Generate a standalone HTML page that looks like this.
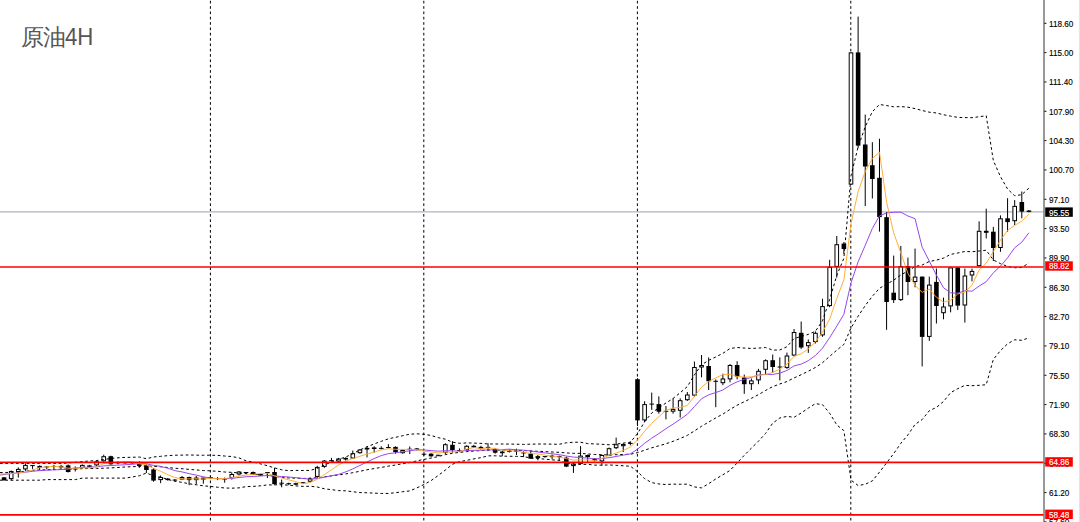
<!DOCTYPE html>
<html><head><meta charset="utf-8"><title>原油4H</title>
<style>
html,body{margin:0;padding:0;background:#fff;width:1080px;height:522px;overflow:hidden}
svg{display:block;position:absolute;left:0;top:0}
.ax{font-family:"Liberation Sans",sans-serif;font-size:8.4px;fill:#000;stroke:#000;stroke-width:0.12}
.axw{fill:#fff;stroke:#fff}
.title{position:absolute;font-family:"Liberation Sans",sans-serif;color:#555;line-height:1;white-space:nowrap}
.cjk{left:21.2px;top:26.8px;font-size:22.5px;letter-spacing:-1.6px}
.lat{left:65.2px;top:25.8px;font-size:23.4px;transform:scaleX(0.95);transform-origin:0 0}
</style></head><body>
<svg width="1080" height="522" viewBox="0 0 1080 522"><rect x="0" y="0" width="1080" height="522" fill="#fff"/><line x1="210.4" y1="0.8" x2="210.4" y2="522" stroke="#000" stroke-width="1" stroke-dasharray="2.7 2.63"/><line x1="423.8" y1="0.8" x2="423.8" y2="522" stroke="#000" stroke-width="1" stroke-dasharray="2.7 2.63"/><line x1="637.4" y1="0.8" x2="637.4" y2="522" stroke="#000" stroke-width="1" stroke-dasharray="2.7 2.63"/><line x1="850.8" y1="0.8" x2="850.8" y2="522" stroke="#000" stroke-width="1" stroke-dasharray="2.7 2.63"/><line x1="0" y1="211.8" x2="1044" y2="211.8" stroke="#aab6c2" stroke-width="1.2"/><line x1="4.08" y1="477.1" x2="4.08" y2="480.6" stroke="#000" stroke-width="1"/><rect x="1.78" y="477.3" width="4.6" height="3" fill="#000"/><line x1="11.19" y1="470.5" x2="11.19" y2="480.6" stroke="#000" stroke-width="1"/><rect x="9.39" y="471.5" width="3.6" height="7.1" fill="#fff" stroke="#000" stroke-width="1"/><line x1="18.31" y1="467.4" x2="18.31" y2="477.6" stroke="#000" stroke-width="1"/><rect x="16.51" y="469.4" width="3.6" height="2.1" fill="#fff" stroke="#000" stroke-width="1"/><line x1="25.43" y1="463.3" x2="25.43" y2="471" stroke="#000" stroke-width="1"/><rect x="23.63" y="465.4" width="3.6" height="3.5" fill="#fff" stroke="#000" stroke-width="1"/><line x1="32.55" y1="465.4" x2="32.55" y2="468.9" stroke="#000" stroke-width="1"/><rect x="30.25" y="465.1" width="4.6" height="1" fill="#000"/><line x1="39.66" y1="465.4" x2="39.66" y2="469.9" stroke="#000" stroke-width="1"/><rect x="37.36" y="465.9" width="4.6" height="2" fill="#000"/><line x1="46.78" y1="465.9" x2="46.78" y2="469.4" stroke="#000" stroke-width="1"/><rect x="44.48" y="466.4" width="4.6" height="1" fill="#000"/><line x1="53.9" y1="464.9" x2="53.9" y2="469.9" stroke="#000" stroke-width="1"/><rect x="51.6" y="465.9" width="4.6" height="1" fill="#000"/><line x1="61.01" y1="464.9" x2="61.01" y2="469.4" stroke="#000" stroke-width="1"/><rect x="58.71" y="465.9" width="4.6" height="1.5" fill="#000"/><line x1="68.13" y1="464.4" x2="68.13" y2="472.5" stroke="#000" stroke-width="1"/><rect x="65.83" y="465.4" width="4.6" height="6.6" fill="#000"/><line x1="75.25" y1="466.4" x2="75.25" y2="471.5" stroke="#000" stroke-width="1"/><rect x="72.95" y="468.4" width="4.6" height="1" fill="#000"/><line x1="82.36" y1="464.4" x2="82.36" y2="468.4" stroke="#000" stroke-width="1"/><rect x="80.56" y="465.4" width="3.6" height="2" fill="#fff" stroke="#000" stroke-width="1"/><line x1="89.48" y1="464.9" x2="89.48" y2="467.4" stroke="#000" stroke-width="1"/><rect x="87.18" y="465.4" width="4.6" height="1.5" fill="#000"/><line x1="96.6" y1="460.3" x2="96.6" y2="465.9" stroke="#000" stroke-width="1"/><rect x="94.8" y="461.8" width="3.6" height="3.1" fill="#fff" stroke="#000" stroke-width="1"/><line x1="103.72" y1="454.7" x2="103.72" y2="461.8" stroke="#000" stroke-width="1"/><rect x="101.92" y="456.7" width="3.6" height="4.1" fill="#fff" stroke="#000" stroke-width="1"/><line x1="110.83" y1="455.7" x2="110.83" y2="464.8" stroke="#000" stroke-width="1"/><rect x="108.53" y="456.2" width="4.6" height="8.1" fill="#000"/><line x1="117.95" y1="461.3" x2="117.95" y2="464.3" stroke="#000" stroke-width="1"/><rect x="115.65" y="462.3" width="4.6" height="1" fill="#000"/><line x1="125.07" y1="462" x2="125.07" y2="463.8" stroke="#000" stroke-width="1"/><rect x="122.77" y="462.3" width="4.6" height="1" fill="#000"/><line x1="132.18" y1="462" x2="132.18" y2="463.8" stroke="#000" stroke-width="1"/><rect x="129.88" y="462.3" width="4.6" height="1" fill="#000"/><line x1="139.3" y1="461.3" x2="139.3" y2="467.9" stroke="#000" stroke-width="1"/><rect x="137" y="463.8" width="4.6" height="2.1" fill="#000"/><line x1="146.42" y1="464.3" x2="146.42" y2="473" stroke="#000" stroke-width="1"/><rect x="144.12" y="465.4" width="4.6" height="4.6" fill="#000"/><line x1="153.53" y1="468" x2="153.53" y2="481.7" stroke="#000" stroke-width="1"/><rect x="151.23" y="469.4" width="4.6" height="11.2" fill="#000"/><line x1="160.65" y1="475.5" x2="160.65" y2="483.2" stroke="#000" stroke-width="1"/><rect x="158.85" y="477.5" width="3.6" height="2.1" fill="#fff" stroke="#000" stroke-width="1"/><line x1="167.77" y1="478" x2="167.77" y2="480.6" stroke="#000" stroke-width="1"/><rect x="165.47" y="478.6" width="4.6" height="1.5" fill="#000"/><line x1="174.88" y1="479" x2="174.88" y2="481" stroke="#000" stroke-width="1"/><rect x="172.58" y="479.6" width="4.6" height="1" fill="#000"/><line x1="182" y1="476" x2="182" y2="480.1" stroke="#000" stroke-width="1"/><rect x="180.2" y="477.5" width="3.6" height="1.6" fill="#fff" stroke="#000" stroke-width="1"/><line x1="189.12" y1="476.6" x2="189.12" y2="485.2" stroke="#000" stroke-width="1"/><rect x="186.82" y="477" width="4.6" height="3.1" fill="#000"/><line x1="196.24" y1="476" x2="196.24" y2="484.2" stroke="#000" stroke-width="1"/><rect x="194.44" y="478.1" width="3.6" height="1.5" fill="#fff" stroke="#000" stroke-width="1"/><line x1="203.35" y1="477.6" x2="203.35" y2="483.7" stroke="#000" stroke-width="1"/><rect x="201.05" y="477.6" width="4.6" height="2" fill="#000"/><line x1="210.47" y1="476" x2="210.47" y2="479.1" stroke="#000" stroke-width="1"/><rect x="208.17" y="477.1" width="4.6" height="1" fill="#000"/><line x1="217.59" y1="477.1" x2="217.59" y2="480.1" stroke="#000" stroke-width="1"/><rect x="215.29" y="478" width="4.6" height="1" fill="#000"/><line x1="224.7" y1="477.6" x2="224.7" y2="482.7" stroke="#000" stroke-width="1"/><rect x="222.4" y="478.5" width="4.6" height="1" fill="#000"/><line x1="231.82" y1="472.5" x2="231.82" y2="479.6" stroke="#000" stroke-width="1"/><rect x="230.02" y="474.5" width="3.6" height="3.1" fill="#fff" stroke="#000" stroke-width="1"/><line x1="238.94" y1="471" x2="238.94" y2="475.5" stroke="#000" stroke-width="1"/><rect x="237.14" y="472" width="3.6" height="2" fill="#fff" stroke="#000" stroke-width="1"/><line x1="246.06" y1="472" x2="246.06" y2="474" stroke="#000" stroke-width="1"/><rect x="243.75" y="472" width="4.6" height="1" fill="#000"/><line x1="253.17" y1="471.5" x2="253.17" y2="475" stroke="#000" stroke-width="1"/><rect x="250.87" y="472" width="4.6" height="2.5" fill="#000"/><line x1="260.29" y1="473.5" x2="260.29" y2="476" stroke="#000" stroke-width="1"/><rect x="257.99" y="474" width="4.6" height="1.5" fill="#000"/><line x1="267.41" y1="472" x2="267.41" y2="478" stroke="#000" stroke-width="1"/><rect x="265.11" y="472" width="4.6" height="1" fill="#000"/><line x1="274.52" y1="467.9" x2="274.52" y2="484.7" stroke="#000" stroke-width="1"/><rect x="272.22" y="472" width="4.6" height="12.2" fill="#000"/><line x1="281.64" y1="479.6" x2="281.64" y2="487.3" stroke="#000" stroke-width="1"/><rect x="279.34" y="482.7" width="4.6" height="1" fill="#000"/><line x1="288.76" y1="482.7" x2="288.76" y2="485.2" stroke="#000" stroke-width="1"/><rect x="286.46" y="483.2" width="4.6" height="1" fill="#000"/><line x1="295.87" y1="482.7" x2="295.87" y2="485.2" stroke="#000" stroke-width="1"/><rect x="293.57" y="483.2" width="4.6" height="1.5" fill="#000"/><line x1="302.99" y1="482" x2="302.99" y2="484" stroke="#000" stroke-width="1"/><rect x="300.69" y="482.2" width="4.6" height="1" fill="#000"/><line x1="310.11" y1="477.5" x2="310.11" y2="482.2" stroke="#000" stroke-width="1"/><rect x="308.31" y="478.9" width="3.6" height="2.3" fill="#fff" stroke="#000" stroke-width="1"/><line x1="317.23" y1="465.8" x2="317.23" y2="478" stroke="#000" stroke-width="1"/><rect x="315.43" y="467.4" width="3.6" height="9" fill="#fff" stroke="#000" stroke-width="1"/><line x1="324.34" y1="460" x2="324.34" y2="467.9" stroke="#000" stroke-width="1"/><rect x="322.54" y="461.1" width="3.6" height="5.3" fill="#fff" stroke="#000" stroke-width="1"/><line x1="331.46" y1="457.9" x2="331.46" y2="461.6" stroke="#000" stroke-width="1"/><rect x="329.16" y="460.1" width="4.6" height="1" fill="#000"/><line x1="338.58" y1="457.9" x2="338.58" y2="462.1" stroke="#000" stroke-width="1"/><rect x="336.78" y="459" width="3.6" height="2.1" fill="#fff" stroke="#000" stroke-width="1"/><line x1="345.69" y1="457.4" x2="345.69" y2="460.6" stroke="#000" stroke-width="1"/><rect x="343.39" y="457.9" width="4.6" height="1.6" fill="#000"/><line x1="352.81" y1="450.5" x2="352.81" y2="459" stroke="#000" stroke-width="1"/><rect x="351.01" y="453.7" width="3.6" height="4.3" fill="#fff" stroke="#000" stroke-width="1"/><line x1="359.93" y1="449" x2="359.93" y2="453.7" stroke="#000" stroke-width="1"/><rect x="358.13" y="450" width="3.6" height="2.7" fill="#fff" stroke="#000" stroke-width="1"/><line x1="367.04" y1="446.3" x2="367.04" y2="457.4" stroke="#000" stroke-width="1"/><rect x="364.74" y="447.9" width="4.6" height="1.6" fill="#000"/><line x1="374.16" y1="446.3" x2="374.16" y2="452.7" stroke="#000" stroke-width="1"/><rect x="371.86" y="447.4" width="4.6" height="1.6" fill="#000"/><line x1="381.28" y1="446.3" x2="381.28" y2="449.5" stroke="#000" stroke-width="1"/><rect x="378.98" y="447.9" width="4.6" height="1" fill="#000"/><line x1="388.39" y1="444.2" x2="388.39" y2="448.4" stroke="#000" stroke-width="1"/><rect x="386.09" y="447" width="4.6" height="1" fill="#000"/><line x1="395.51" y1="446.3" x2="395.51" y2="453.7" stroke="#000" stroke-width="1"/><rect x="393.21" y="446.9" width="4.6" height="5.2" fill="#000"/><line x1="402.63" y1="449.5" x2="402.63" y2="453.7" stroke="#000" stroke-width="1"/><rect x="400.83" y="450.5" width="3.6" height="2.2" fill="#fff" stroke="#000" stroke-width="1"/><line x1="409.75" y1="446.5" x2="409.75" y2="454" stroke="#000" stroke-width="1"/><rect x="407.45" y="448.7" width="4.6" height="1" fill="#000"/><line x1="416.86" y1="448" x2="416.86" y2="450.5" stroke="#000" stroke-width="1"/><rect x="414.56" y="448.4" width="4.6" height="1.6" fill="#000"/><line x1="423.98" y1="452.1" x2="423.98" y2="455.8" stroke="#000" stroke-width="1"/><rect x="421.68" y="453.7" width="4.6" height="1" fill="#000"/><line x1="431.1" y1="453.2" x2="431.1" y2="456.8" stroke="#000" stroke-width="1"/><rect x="428.8" y="453.7" width="4.6" height="2.6" fill="#000"/><line x1="438.21" y1="454.8" x2="438.21" y2="456.3" stroke="#000" stroke-width="1"/><rect x="435.91" y="454.8" width="4.6" height="1" fill="#000"/><line x1="445.33" y1="443.2" x2="445.33" y2="454.2" stroke="#000" stroke-width="1"/><rect x="443.53" y="444.7" width="3.6" height="7.5" fill="#fff" stroke="#000" stroke-width="1"/><line x1="452.45" y1="441.1" x2="452.45" y2="452.7" stroke="#000" stroke-width="1"/><rect x="450.15" y="444.8" width="4.6" height="5.2" fill="#000"/><line x1="459.56" y1="448.4" x2="459.56" y2="452.1" stroke="#000" stroke-width="1"/><rect x="457.26" y="450" width="4.6" height="1" fill="#000"/><line x1="466.68" y1="445.3" x2="466.68" y2="451" stroke="#000" stroke-width="1"/><rect x="464.88" y="446.3" width="3.6" height="3.2" fill="#fff" stroke="#000" stroke-width="1"/><line x1="473.8" y1="444.8" x2="473.8" y2="448" stroke="#000" stroke-width="1"/><rect x="471.5" y="445.8" width="4.6" height="1.6" fill="#000"/><line x1="480.92" y1="445.8" x2="480.92" y2="449.5" stroke="#000" stroke-width="1"/><rect x="478.62" y="446.9" width="4.6" height="2.1" fill="#000"/><line x1="488.03" y1="443.2" x2="488.03" y2="451.1" stroke="#000" stroke-width="1"/><rect x="485.73" y="446.9" width="4.6" height="1" fill="#000"/><line x1="495.15" y1="448" x2="495.15" y2="453.7" stroke="#000" stroke-width="1"/><rect x="492.85" y="449" width="4.6" height="3.7" fill="#000"/><line x1="502.27" y1="450.5" x2="502.27" y2="456.3" stroke="#000" stroke-width="1"/><rect x="499.97" y="451.6" width="4.6" height="1.6" fill="#000"/><line x1="509.38" y1="449.8" x2="509.38" y2="452.5" stroke="#000" stroke-width="1"/><rect x="507.08" y="450.8" width="4.6" height="1" fill="#000"/><line x1="516.5" y1="448.7" x2="516.5" y2="455" stroke="#000" stroke-width="1"/><rect x="514.2" y="450.8" width="4.6" height="1" fill="#000"/><line x1="523.62" y1="451.3" x2="523.62" y2="457.1" stroke="#000" stroke-width="1"/><rect x="521.32" y="452.4" width="4.6" height="1" fill="#000"/><line x1="530.74" y1="450.3" x2="530.74" y2="458.7" stroke="#000" stroke-width="1"/><rect x="528.44" y="453.5" width="4.6" height="5.2" fill="#000"/><line x1="537.85" y1="455" x2="537.85" y2="460.3" stroke="#000" stroke-width="1"/><rect x="536.05" y="456.6" width="3.6" height="1.1" fill="#fff" stroke="#000" stroke-width="1"/><line x1="544.97" y1="456.1" x2="544.97" y2="457.7" stroke="#000" stroke-width="1"/><rect x="542.67" y="456.1" width="4.6" height="1" fill="#000"/><line x1="552.09" y1="454.5" x2="552.09" y2="459.3" stroke="#000" stroke-width="1"/><rect x="549.79" y="455.6" width="4.6" height="1.5" fill="#000"/><line x1="559.2" y1="455.6" x2="559.2" y2="460.3" stroke="#000" stroke-width="1"/><rect x="556.9" y="456.1" width="4.6" height="1" fill="#000"/><line x1="566.32" y1="456.6" x2="566.32" y2="467.1" stroke="#000" stroke-width="1"/><rect x="564.02" y="457.7" width="4.6" height="8.9" fill="#000"/><line x1="573.44" y1="462.4" x2="573.44" y2="472.9" stroke="#000" stroke-width="1"/><rect x="571.64" y="464" width="3.6" height="1.6" fill="#fff" stroke="#000" stroke-width="1"/><line x1="580.55" y1="446.1" x2="580.55" y2="464.5" stroke="#000" stroke-width="1"/><rect x="578.75" y="456.1" width="3.6" height="7.4" fill="#fff" stroke="#000" stroke-width="1"/><line x1="587.67" y1="454.5" x2="587.67" y2="461.9" stroke="#000" stroke-width="1"/><rect x="585.37" y="455" width="4.6" height="2.1" fill="#000"/><line x1="594.79" y1="458.2" x2="594.79" y2="461.3" stroke="#000" stroke-width="1"/><rect x="592.49" y="458.7" width="4.6" height="2.1" fill="#000"/><line x1="601.9" y1="454.5" x2="601.9" y2="465.6" stroke="#000" stroke-width="1"/><rect x="600.11" y="455.5" width="3.6" height="5.4" fill="#fff" stroke="#000" stroke-width="1"/><line x1="609.02" y1="447.5" x2="609.02" y2="456.2" stroke="#000" stroke-width="1"/><rect x="607.22" y="448.7" width="3.6" height="6.5" fill="#fff" stroke="#000" stroke-width="1"/><line x1="616.14" y1="437.6" x2="616.14" y2="449.1" stroke="#000" stroke-width="1"/><rect x="614.34" y="444.8" width="3.6" height="2.9" fill="#fff" stroke="#000" stroke-width="1"/><line x1="623.26" y1="443.4" x2="623.26" y2="452" stroke="#000" stroke-width="1"/><rect x="621.46" y="444.5" width="3.6" height="1.2" fill="#fff" stroke="#000" stroke-width="1"/><line x1="630.37" y1="441.4" x2="630.37" y2="445.3" stroke="#000" stroke-width="1"/><rect x="628.07" y="442.9" width="4.6" height="1" fill="#000"/><line x1="637.49" y1="378.2" x2="637.49" y2="426.1" stroke="#000" stroke-width="1"/><rect x="635.19" y="379.2" width="4.6" height="41.2" fill="#000"/><line x1="644.61" y1="401.2" x2="644.61" y2="422.3" stroke="#000" stroke-width="1"/><rect x="642.81" y="404.6" width="3.6" height="15.3" fill="#fff" stroke="#000" stroke-width="1"/><line x1="651.72" y1="392.6" x2="651.72" y2="409.8" stroke="#000" stroke-width="1"/><rect x="649.42" y="403.6" width="4.6" height="1" fill="#000"/><line x1="658.84" y1="396.4" x2="658.84" y2="413.7" stroke="#000" stroke-width="1"/><rect x="656.54" y="404.1" width="4.6" height="7.6" fill="#000"/><line x1="665.96" y1="406" x2="665.96" y2="419.4" stroke="#000" stroke-width="1"/><rect x="663.66" y="410.75" width="4.6" height="1" fill="#000"/><line x1="673.08" y1="398.3" x2="673.08" y2="413.7" stroke="#000" stroke-width="1"/><rect x="671.28" y="409.4" width="3.6" height="1.8" fill="#fff" stroke="#000" stroke-width="1"/><line x1="680.19" y1="398.3" x2="680.19" y2="417.5" stroke="#000" stroke-width="1"/><rect x="678.39" y="400.7" width="3.6" height="9.6" fill="#fff" stroke="#000" stroke-width="1"/><line x1="687.31" y1="392" x2="687.31" y2="401" stroke="#000" stroke-width="1"/><rect x="685.51" y="395" width="3.6" height="4.7" fill="#fff" stroke="#000" stroke-width="1"/><line x1="694.43" y1="361.5" x2="694.43" y2="396.6" stroke="#000" stroke-width="1"/><rect x="692.63" y="367.5" width="3.6" height="27.6" fill="#fff" stroke="#000" stroke-width="1"/><line x1="701.54" y1="355" x2="701.54" y2="377.3" stroke="#000" stroke-width="1"/><rect x="699.74" y="365.5" width="3.6" height="1.5" fill="#fff" stroke="#000" stroke-width="1"/><line x1="708.66" y1="357.4" x2="708.66" y2="390" stroke="#000" stroke-width="1"/><rect x="706.36" y="366" width="4.6" height="15.2" fill="#000"/><line x1="715.78" y1="379.4" x2="715.78" y2="407.2" stroke="#000" stroke-width="1"/><rect x="713.48" y="380.8" width="4.6" height="1" fill="#000"/><line x1="722.89" y1="373.7" x2="722.89" y2="385.2" stroke="#000" stroke-width="1"/><rect x="721.09" y="379" width="3.6" height="3.7" fill="#fff" stroke="#000" stroke-width="1"/><line x1="730.01" y1="364" x2="730.01" y2="382.3" stroke="#000" stroke-width="1"/><rect x="728.21" y="365.5" width="3.6" height="13.4" fill="#fff" stroke="#000" stroke-width="1"/><line x1="737.13" y1="361.2" x2="737.13" y2="379.4" stroke="#000" stroke-width="1"/><rect x="734.83" y="365" width="4.6" height="11.5" fill="#000"/><line x1="744.25" y1="374.6" x2="744.25" y2="393.8" stroke="#000" stroke-width="1"/><rect x="741.95" y="377.5" width="4.6" height="6.7" fill="#000"/><line x1="751.36" y1="378.5" x2="751.36" y2="390" stroke="#000" stroke-width="1"/><rect x="749.56" y="380.9" width="3.6" height="2.8" fill="#fff" stroke="#000" stroke-width="1"/><line x1="758.48" y1="368.9" x2="758.48" y2="384.2" stroke="#000" stroke-width="1"/><rect x="756.68" y="371.3" width="3.6" height="8.6" fill="#fff" stroke="#000" stroke-width="1"/><line x1="765.6" y1="359.3" x2="765.6" y2="374.6" stroke="#000" stroke-width="1"/><rect x="763.8" y="360.7" width="3.6" height="8.6" fill="#fff" stroke="#000" stroke-width="1"/><line x1="772.71" y1="354.5" x2="772.71" y2="372.7" stroke="#000" stroke-width="1"/><rect x="770.41" y="360.2" width="4.6" height="6.8" fill="#000"/><line x1="779.83" y1="357.4" x2="779.83" y2="380.4" stroke="#000" stroke-width="1"/><rect x="777.53" y="366.5" width="4.6" height="1" fill="#000"/><line x1="786.95" y1="352.6" x2="786.95" y2="368.9" stroke="#000" stroke-width="1"/><rect x="785.15" y="356" width="3.6" height="11.4" fill="#fff" stroke="#000" stroke-width="1"/><line x1="794.06" y1="329" x2="794.06" y2="356.4" stroke="#000" stroke-width="1"/><rect x="792.26" y="332.5" width="3.6" height="22.6" fill="#fff" stroke="#000" stroke-width="1"/><line x1="801.18" y1="321.5" x2="801.18" y2="348.9" stroke="#000" stroke-width="1"/><rect x="798.88" y="332.8" width="4.6" height="14.7" fill="#000"/><line x1="808.3" y1="339.5" x2="808.3" y2="352.9" stroke="#000" stroke-width="1"/><rect x="806.5" y="342.6" width="3.6" height="3.1" fill="#fff" stroke="#000" stroke-width="1"/><line x1="815.41" y1="331.4" x2="815.41" y2="343.5" stroke="#000" stroke-width="1"/><rect x="813.62" y="333.3" width="3.6" height="8.3" fill="#fff" stroke="#000" stroke-width="1"/><line x1="822.53" y1="298.8" x2="822.53" y2="336.8" stroke="#000" stroke-width="1"/><rect x="820.73" y="306.6" width="3.6" height="28.3" fill="#fff" stroke="#000" stroke-width="1"/><line x1="829.65" y1="259.8" x2="829.65" y2="307.2" stroke="#000" stroke-width="1"/><rect x="827.85" y="267.4" width="3.6" height="38.2" fill="#fff" stroke="#000" stroke-width="1"/><line x1="836.77" y1="236" x2="836.77" y2="277.6" stroke="#000" stroke-width="1"/><rect x="834.97" y="244.7" width="3.6" height="21.7" fill="#fff" stroke="#000" stroke-width="1"/><line x1="843.88" y1="242" x2="843.88" y2="254" stroke="#000" stroke-width="1"/><rect x="841.58" y="243.6" width="4.6" height="5.4" fill="#000"/><line x1="851" y1="52.4" x2="851" y2="184.6" stroke="#000" stroke-width="1"/><rect x="849.2" y="52.9" width="3.6" height="131.2" fill="#fff" stroke="#000" stroke-width="1"/><line x1="858.12" y1="16.6" x2="858.12" y2="148" stroke="#000" stroke-width="1"/><rect x="855.82" y="52.4" width="4.6" height="93.2" fill="#000"/><line x1="865.23" y1="114.6" x2="865.23" y2="206" stroke="#000" stroke-width="1"/><rect x="862.93" y="144.5" width="4.6" height="22" fill="#000"/><line x1="872.35" y1="142.2" x2="872.35" y2="198.5" stroke="#000" stroke-width="1"/><rect x="870.05" y="165.2" width="4.6" height="13.8" fill="#000"/><line x1="879.47" y1="138.7" x2="879.47" y2="231.6" stroke="#000" stroke-width="1"/><rect x="877.17" y="177.8" width="4.6" height="39.3" fill="#000"/><line x1="886.59" y1="212" x2="886.59" y2="329.8" stroke="#000" stroke-width="1"/><rect x="884.29" y="217.2" width="4.6" height="84.8" fill="#000"/><line x1="893.7" y1="255.6" x2="893.7" y2="303" stroke="#000" stroke-width="1"/><rect x="891.4" y="292.7" width="4.6" height="7.4" fill="#000"/><line x1="900.82" y1="246" x2="900.82" y2="301" stroke="#000" stroke-width="1"/><rect x="899.02" y="266.6" width="3.6" height="33" fill="#fff" stroke="#000" stroke-width="1"/><line x1="907.94" y1="257.6" x2="907.94" y2="295.2" stroke="#000" stroke-width="1"/><rect x="905.64" y="266" width="4.6" height="16" fill="#000"/><line x1="915.05" y1="248.6" x2="915.05" y2="287.3" stroke="#000" stroke-width="1"/><rect x="913.25" y="277.1" width="3.6" height="4.4" fill="#fff" stroke="#000" stroke-width="1"/><line x1="922.17" y1="276.6" x2="922.17" y2="366.4" stroke="#000" stroke-width="1"/><rect x="919.87" y="276.6" width="4.6" height="60.3" fill="#000"/><line x1="929.29" y1="276.6" x2="929.29" y2="340.9" stroke="#000" stroke-width="1"/><rect x="927.49" y="285.1" width="3.6" height="51.3" fill="#fff" stroke="#000" stroke-width="1"/><line x1="936.4" y1="268.5" x2="936.4" y2="323.5" stroke="#000" stroke-width="1"/><rect x="934.1" y="281.9" width="4.6" height="24.1" fill="#000"/><line x1="943.52" y1="297.6" x2="943.52" y2="319.3" stroke="#000" stroke-width="1"/><rect x="941.72" y="307" width="3.6" height="5.7" fill="#fff" stroke="#000" stroke-width="1"/><line x1="950.64" y1="267.4" x2="950.64" y2="312.3" stroke="#000" stroke-width="1"/><rect x="948.84" y="267.9" width="3.6" height="38" fill="#fff" stroke="#000" stroke-width="1"/><line x1="957.75" y1="267.4" x2="957.75" y2="310" stroke="#000" stroke-width="1"/><rect x="955.46" y="267.4" width="4.6" height="38.2" fill="#000"/><line x1="964.87" y1="268.6" x2="964.87" y2="322.6" stroke="#000" stroke-width="1"/><rect x="963.07" y="276" width="3.6" height="29" fill="#fff" stroke="#000" stroke-width="1"/><line x1="971.99" y1="268.6" x2="971.99" y2="281.3" stroke="#000" stroke-width="1"/><rect x="970.19" y="271.4" width="3.6" height="3.6" fill="#fff" stroke="#000" stroke-width="1"/><line x1="979.11" y1="221.3" x2="979.11" y2="266.2" stroke="#000" stroke-width="1"/><rect x="977.31" y="231.3" width="3.6" height="34.4" fill="#fff" stroke="#000" stroke-width="1"/><line x1="986.22" y1="208.7" x2="986.22" y2="238.5" stroke="#000" stroke-width="1"/><rect x="983.92" y="230.8" width="4.6" height="2" fill="#000"/><line x1="993.34" y1="226.9" x2="993.34" y2="261" stroke="#000" stroke-width="1"/><rect x="991.04" y="231.7" width="4.6" height="16.3" fill="#000"/><line x1="1000.46" y1="215.4" x2="1000.46" y2="251.8" stroke="#000" stroke-width="1"/><rect x="998.66" y="218.8" width="3.6" height="28.7" fill="#fff" stroke="#000" stroke-width="1"/><line x1="1007.57" y1="198.2" x2="1007.57" y2="231.7" stroke="#000" stroke-width="1"/><rect x="1005.27" y="218.3" width="4.6" height="3.8" fill="#000"/><line x1="1014.69" y1="200.1" x2="1014.69" y2="225" stroke="#000" stroke-width="1"/><rect x="1012.89" y="206.4" width="3.6" height="14.3" fill="#fff" stroke="#000" stroke-width="1"/><line x1="1021.81" y1="191.5" x2="1021.81" y2="218.3" stroke="#000" stroke-width="1"/><rect x="1019.51" y="202" width="4.6" height="9.6" fill="#000"/><line x1="1028.92" y1="210" x2="1028.92" y2="212.4" stroke="#000" stroke-width="1"/><rect x="1026.62" y="210.5" width="4.6" height="1.4" fill="#000"/><polyline points="0,463.5 4.08,463.5 11.19,463.5 18.31,463.5 25.43,463.5 32.55,463.5 39.66,463.5 46.78,463.5 53.9,463.5 61.01,463.5 68.13,463 75.25,462.3 82.36,461.6 89.48,461 96.6,460.5 103.72,459.5 110.83,458.5 117.95,457.8 125.07,457.4 132.18,457.3 139.3,457.02 146.42,458.74 153.53,456.98 160.65,456.34 167.77,455.65 174.88,455.22 182,455.13 189.12,454.95 196.24,455.15 203.35,455.23 210.47,455.22 217.59,455.37 224.7,456.03 231.82,456.54 238.94,457.87 246.06,460.77 253.17,462.02 260.29,463.83 267.41,465.72 274.52,467.9 281.64,469.75 288.76,470.71 295.87,470.41 302.99,470.47 310.11,470.42 317.23,468.38 324.34,464.94 331.46,462.13 338.58,459.27 345.69,457.06 352.81,453.68 359.93,449.94 367.04,446.79 374.16,443.93 381.28,441.32 388.39,438.8 395.51,437.31 402.63,435.74 409.75,434.19 416.86,433.81 423.98,434.27 431.1,435.49 438.21,437.62 445.33,439.2 452.45,442.18 459.56,443.28 466.68,442.92 473.8,443.11 480.92,443.39 488.03,443.98 495.15,444 502.27,444.02 509.38,444.09 516.5,444.21 523.62,444.4 530.74,444.17 537.85,444.04 544.97,444.04 552.09,444.16 559.2,444.3 566.32,442.8 573.44,442.24 580.55,442.24 587.67,443.61 594.79,443.91 601.9,444.3 609.02,444.78 616.14,444.09 623.26,443.11 630.37,442.29 637.49,433.63 644.61,421.75 651.72,413.03 658.84,407.72 665.96,403.04 673.08,398.47 680.19,392.71 687.31,386.62 694.43,374.86 701.54,364.73 708.66,360.39 715.78,356.93 722.89,353.34 730.01,348.52 737.13,347.51 744.25,348.07 751.36,348.42 758.48,348.12 765.6,347.51 772.71,350.09 779.83,349.97 786.95,346.7 794.06,338.56 801.18,336.43 808.3,334.4 815.41,331.23 822.53,320.78 829.65,299.5 836.77,275.55 843.88,258.13 851,175.83 858.12,146.85 865.23,126.9 872.35,111.67 879.47,104.48 886.59,105.53 893.7,106.81 900.82,106.58 907.94,107.2 915.05,108.64 922.17,110.46 929.29,112.21 936.4,112.95 943.52,114.73 950.64,116.14 957.75,117.38 964.87,117.6 971.99,117.7 979.11,116.75 986.22,115.71 993.34,160.58 1000.46,176.67 1007.57,189.02 1014.69,195.74 1021.81,194.66 1028.92,188.13" fill="none" stroke="#000" stroke-width="1" stroke-dasharray="2.7 2.63"/><polyline points="0,472.56 4.08,472.5 11.19,472.4 18.31,472.1 25.43,471.2 32.55,470.3 39.66,470 46.78,469.7 53.9,469.5 61.01,469.3 68.13,469.1 75.25,468.9 82.36,468.7 89.48,468.5 96.6,468.4 103.72,468.2 110.83,467.9 117.95,467.5 125.07,467 132.18,466.7 139.3,466.4 146.42,465.89 153.53,466.37 160.65,466.77 167.77,467.54 174.88,468.26 182,468.72 189.12,469.38 196.24,469.94 203.35,470.55 210.47,470.83 217.59,471.31 224.7,472.01 231.82,472.37 238.94,472.88 246.06,473.69 253.17,474.2 260.29,474.84 267.41,475.32 274.52,476.39 281.64,477.26 288.76,477.94 295.87,478.15 302.99,478.43 310.11,478.35 317.23,477.68 324.34,476.87 331.46,475.89 338.58,474.94 345.69,473.93 352.81,472.71 359.93,471.26 367.04,469.79 374.16,468.54 381.28,467.38 388.39,466.13 395.51,465.01 402.63,463.73 409.75,462.57 416.86,460.86 423.98,459.41 431.1,458.04 438.21,456.57 445.33,454.64 452.45,453.23 459.56,452.41 466.68,451.66 473.8,451 480.92,450.53 488.03,449.92 495.15,449.9 502.27,450.09 509.38,450.17 516.5,450.29 523.62,450.51 530.74,451.08 537.85,451.27 544.97,451.61 552.09,452 559.2,452.33 566.32,452.95 573.44,453.31 580.55,453.33 587.67,453.97 594.79,454.51 601.9,454.74 609.02,454.86 616.14,454.7 623.26,454.45 630.37,454.25 637.49,452.64 644.61,450.18 651.72,447.82 658.84,445.84 665.96,443.78 673.08,441.29 680.19,438.5 687.31,435.39 694.43,430.89 701.54,426.3 708.66,422.04 715.78,417.93 722.89,414.07 730.01,409.46 737.13,405.25 744.25,401.71 751.36,398.32 758.48,394.64 765.6,390.45 772.71,386.63 779.83,383.97 786.95,381.53 794.06,377.93 801.18,374.72 808.3,371.24 815.41,367.44 822.53,362.73 829.65,356.35 836.77,350.21 843.88,344.41 851,327.97 858.12,316.19 865.23,305.58 872.35,296.28 879.47,288.32 886.59,284.21 893.7,280.19 900.82,274.96 907.94,271.05 915.05,266.53 922.17,265.02 929.29,261.48 936.4,260.18 943.52,258.12 950.64,254.39 957.75,253.03 964.87,251.5 971.99,251.7 979.11,251.03 986.22,250.22 993.34,260 1000.46,263.63 1007.57,266.42 1014.69,267.76 1021.81,267.49 1028.92,262.98" fill="none" stroke="#000" stroke-width="1" stroke-dasharray="2.7 2.63"/><polyline points="0,480.2 4.08,480.2 11.19,480.2 18.31,480.2 25.43,480.2 32.55,480.2 39.66,480.2 46.78,479.6 53.9,479.6 61.01,479.6 68.13,479.6 75.25,479.6 82.36,478.1 89.48,478.1 96.6,478.1 103.72,478.1 110.83,478.1 117.95,478.1 125.07,478.1 132.18,477 139.3,475.79 146.42,473.04 153.53,475.76 160.65,477.21 167.77,479.42 174.88,481.3 182,482.3 189.12,483.8 196.24,484.72 203.35,485.86 210.47,486.43 217.59,487.24 224.7,487.99 231.82,488.19 238.94,487.88 246.06,486.61 253.17,486.38 260.29,485.84 267.41,484.92 274.52,484.88 281.64,484.76 288.76,485.17 295.87,485.88 302.99,486.39 310.11,486.27 317.23,486.99 324.34,488.79 331.46,489.65 338.58,490.6 345.69,490.8 352.81,491.74 359.93,492.58 367.04,492.78 374.16,493.14 381.28,493.44 388.39,493.46 395.51,492.71 402.63,491.73 409.75,490.95 416.86,487.91 423.98,484.55 431.1,480.59 438.21,475.52 445.33,470.09 452.45,464.27 459.56,461.53 466.68,460.41 473.8,458.9 480.92,457.67 488.03,455.87 495.15,455.8 502.27,456.15 509.38,456.26 516.5,456.37 523.62,456.63 530.74,457.98 537.85,458.51 544.97,459.17 552.09,459.84 559.2,460.36 566.32,463.1 573.44,464.38 580.55,464.41 587.67,464.33 594.79,465.11 601.9,465.17 609.02,464.93 616.14,465.31 623.26,465.79 630.37,466.21 637.49,471.64 644.61,478.61 651.72,482.61 658.84,483.96 665.96,484.52 673.08,484.11 680.19,484.28 687.31,484.16 694.43,486.91 701.54,487.88 708.66,483.68 715.78,478.92 722.89,474.8 730.01,470.41 737.13,462.99 744.25,455.35 751.36,448.22 758.48,441.17 765.6,433.4 772.71,423.18 779.83,417.96 786.95,416.37 794.06,417.3 801.18,413.01 808.3,408.08 815.41,403.64 822.53,404.68 829.65,413.2 836.77,424.87 843.88,430.69 851,480.11 858.12,485.52 865.23,484.27 872.35,480.9 879.47,472.15 886.59,462.88 893.7,453.57 900.82,443.33 907.94,434.89 915.05,424.41 922.17,419.58 929.29,410.74 936.4,407.4 943.52,401.52 950.64,392.64 957.75,388.68 964.87,385.4 971.99,385.7 979.11,385.31 986.22,384.73 993.34,359.42 1000.46,350.6 1007.57,343.81 1014.69,339.78 1021.81,340.31 1028.92,337.83" fill="none" stroke="#000" stroke-width="1" stroke-dasharray="2.7 2.63"/><polyline points="0,475.02 4.08,474.5 11.19,473.6 18.31,472.9 25.43,472.2 32.55,471.3 39.66,470.6 46.78,470.2 53.9,469.9 61.01,469.6 68.13,469.13 75.25,467.99 82.36,467.38 89.48,467.18 96.6,466.82 103.72,465.88 110.83,465.52 117.95,465.11 125.07,464.75 132.18,464.29 139.3,463.68 146.42,463.79 153.53,465.36 160.65,466.37 167.77,468.25 174.88,470.64 182,471.91 189.12,473.64 196.24,475.12 203.35,476.8 210.47,477.97 217.59,478.82 224.7,478.66 231.82,478.36 238.94,477.5 246.06,476.74 253.17,476.49 260.29,476.03 267.41,475.52 274.52,475.98 281.64,476.54 288.76,477.06 295.87,477.63 302.99,478.5 310.11,479.19 317.23,478.63 324.34,477.24 331.46,475.75 338.58,474.35 345.69,471.88 352.81,468.88 359.93,465.46 367.04,461.94 374.16,458.57 381.28,455.57 388.39,453.63 395.51,452.78 402.63,451.72 409.75,450.79 416.86,449.84 423.98,449.94 431.1,450.62 438.21,451.2 445.33,450.72 452.45,450.88 459.56,451.18 466.68,450.55 473.8,450.29 480.92,450.27 488.03,450.01 495.15,449.86 502.27,449.55 509.38,449.15 516.5,449.86 523.62,450.15 530.74,450.97 537.85,452 544.97,452.92 552.09,453.73 559.2,454.65 566.32,456.04 573.44,457.07 580.55,457.5 587.67,458.08 594.79,458.87 601.9,458.5 609.02,457.71 616.14,456.48 623.26,455.17 630.37,453.85 637.49,449.23 644.61,443.29 651.72,438.14 658.84,433.6 665.96,428.69 673.08,424.08 680.19,419.28 687.31,414.3 694.43,406.6 701.54,398.76 708.66,394.84 715.78,392.56 722.89,390 730.01,385.33 737.13,381.81 744.25,379.34 751.36,377.36 758.48,374.99 765.6,374.31 772.71,374.51 779.83,373.09 786.95,370.51 794.06,365.86 801.18,364.11 808.3,360.67 815.41,355.53 822.53,348.1 829.65,337.71 836.77,326.11 843.88,314.31 851,282.85 858.12,261.86 865.23,245.31 872.35,228.46 879.47,215.96 886.59,212.88 893.7,212.28 900.82,212.2 907.94,215.98 915.05,218.74 922.17,247.19 929.29,261.09 936.4,275.04 943.52,287.79 950.64,292.82 957.75,293.18 964.87,290.72 971.99,291.2 979.11,286.08 986.22,281.7 993.34,272.81 1000.46,266.18 1007.57,257.79 1014.69,247.73 1021.81,242.15 1028.92,232.78" fill="none" stroke="#9548f0" stroke-width="1"/><polyline points="0,473.97 4.08,473.8 11.19,473.5 18.31,473 25.43,471.8 32.55,470.14 39.66,467.66 46.78,466.84 53.9,466.34 61.01,466.84 68.13,468.12 75.25,468.32 82.36,467.92 89.48,468.02 96.6,466.8 103.72,463.64 110.83,462.72 117.95,462.3 125.07,461.48 132.18,461.78 139.3,463.72 146.42,464.86 153.53,468.42 160.65,471.26 167.77,474.72 174.88,477.56 182,478.96 189.12,478.86 196.24,478.98 203.35,478.88 210.47,478.38 217.59,478.68 224.7,478.46 231.82,477.74 238.94,476.12 246.06,475.1 253.17,474.3 260.29,473.6 267.41,473.3 274.52,475.84 281.64,477.98 288.76,479.82 295.87,481.66 302.99,483.7 310.11,482.54 317.23,479.28 324.34,474.66 331.46,469.84 338.58,465 345.69,461.22 352.81,458.48 359.93,456.26 367.04,454.04 374.16,452.14 381.28,449.92 388.39,448.78 395.51,449.3 402.63,449.4 409.75,449.44 416.86,449.76 423.98,451.1 431.1,451.94 438.21,453 445.33,452 452.45,452 459.56,451.26 466.68,449.16 473.8,447.58 480.92,448.54 488.03,448.02 495.15,448.46 502.27,449.94 509.38,450.72 516.5,451.18 523.62,452.28 530.74,453.48 537.85,454.06 544.97,455.12 552.09,456.28 559.2,457.02 566.32,458.6 573.44,460.08 580.55,459.88 587.67,459.88 594.79,460.72 601.9,458.4 609.02,455.34 616.14,453.08 623.26,450.46 630.37,446.98 637.49,440.06 644.61,431.24 651.72,423.2 658.84,416.74 665.96,410.4 673.08,408.1 680.19,407.32 687.31,405.4 694.43,396.46 701.54,387.12 708.66,381.58 715.78,377.8 722.89,374.6 730.01,374.2 737.13,376.5 744.25,377.1 751.36,376.92 758.48,375.38 765.6,374.42 772.71,372.52 779.83,369.08 786.95,364.1 794.06,356.34 801.18,353.8 808.3,348.82 815.41,341.98 822.53,332.1 829.65,319.08 836.77,298.42 843.88,279.8 851,223.72 858.12,191.62 865.23,171.54 872.35,158.5 879.47,152.12 886.59,202.04 893.7,232.94 900.82,252.86 907.94,273.46 915.05,285.36 922.17,292.34 929.29,289.24 936.4,297.22 943.52,302.12 950.64,300.28 957.75,294.02 964.87,292.2 971.99,285.18 979.11,270.04 986.22,263.12 993.34,251.6 1000.46,240.16 1007.57,230.4 1014.69,225.42 1021.81,221.18 1028.92,213.96" fill="none" stroke="#ffaa33" stroke-width="0.95"/><line x1="0" y1="267" x2="1044" y2="267" stroke="#ff0000" stroke-width="1.7"/><line x1="0" y1="462.4" x2="1044" y2="462.4" stroke="#ff0000" stroke-width="1.7"/><line x1="0" y1="514.9" x2="1044" y2="514.9" stroke="#ff0000" stroke-width="1.7"/><rect x="1043.2" y="0" width="1.6" height="522" fill="#808080"/><rect x="1078.9" y="0" width="1.1" height="522" fill="#e4e4e4"/><rect x="1044.4" y="22.8" width="2" height="1" fill="#000"/><text transform="translate(1049,26.6) scale(0.97,1.08)" class="ax">118.60</text><rect x="1044.4" y="52.13" width="2" height="1" fill="#000"/><text transform="translate(1049,55.93) scale(0.97,1.08)" class="ax">115.00</text><rect x="1044.4" y="81.46" width="2" height="1" fill="#000"/><text transform="translate(1049,85.26) scale(0.97,1.08)" class="ax">111.40</text><rect x="1044.4" y="110.79" width="2" height="1" fill="#000"/><text transform="translate(1049,114.59) scale(0.97,1.08)" class="ax">107.90</text><rect x="1044.4" y="140.12" width="2" height="1" fill="#000"/><text transform="translate(1049,143.92) scale(0.97,1.08)" class="ax">104.30</text><rect x="1044.4" y="169.45" width="2" height="1" fill="#000"/><text transform="translate(1049,173.25) scale(0.97,1.08)" class="ax">100.70</text><rect x="1044.4" y="198.78" width="2" height="1" fill="#000"/><text transform="translate(1049,202.58) scale(0.97,1.08)" class="ax">97.10</text><rect x="1044.4" y="228.11" width="2" height="1" fill="#000"/><text transform="translate(1049,231.91) scale(0.97,1.08)" class="ax">93.50</text><rect x="1044.4" y="257.44" width="2" height="1" fill="#000"/><text transform="translate(1049,261.24) scale(0.97,1.08)" class="ax">89.90</text><rect x="1044.4" y="286.77" width="2" height="1" fill="#000"/><text transform="translate(1049,290.57) scale(0.97,1.08)" class="ax">86.30</text><rect x="1044.4" y="316.1" width="2" height="1" fill="#000"/><text transform="translate(1049,319.9) scale(0.97,1.08)" class="ax">82.70</text><rect x="1044.4" y="345.43" width="2" height="1" fill="#000"/><text transform="translate(1049,349.23) scale(0.97,1.08)" class="ax">79.10</text><rect x="1044.4" y="374.76" width="2" height="1" fill="#000"/><text transform="translate(1049,378.56) scale(0.97,1.08)" class="ax">75.50</text><rect x="1044.4" y="404.09" width="2" height="1" fill="#000"/><text transform="translate(1049,407.89) scale(0.97,1.08)" class="ax">71.90</text><rect x="1044.4" y="433.42" width="2" height="1" fill="#000"/><text transform="translate(1049,437.22) scale(0.97,1.08)" class="ax">68.30</text><rect x="1044.4" y="462.75" width="2" height="1" fill="#000"/><text transform="translate(1049,466.55) scale(0.97,1.08)" class="ax">64.70</text><rect x="1044.4" y="492.08" width="2" height="1" fill="#000"/><text transform="translate(1049,495.88) scale(0.97,1.08)" class="ax">61.20</text><rect x="1044.4" y="521.41" width="2" height="1" fill="#000"/><text transform="translate(1049,525.21) scale(0.97,1.08)" class="ax">57.60</text><rect x="1045.2" y="261.3" width="27.6" height="9.4" fill="#ff0000"/><text transform="translate(1049,269.4) scale(0.97,1.1)" class="ax axw">88.82</text><rect x="1045.2" y="457.2" width="27.6" height="9.4" fill="#ff0000"/><text transform="translate(1049,465.3) scale(0.97,1.1)" class="ax axw">64.86</text><rect x="1045.2" y="509.6" width="27.6" height="9.4" fill="#ff0000"/><text transform="translate(1049,517.7) scale(0.97,1.1)" class="ax axw">58.48</text><rect x="1045.2" y="207.4" width="27.6" height="9.4" fill="#000000"/><text transform="translate(1049,215.5) scale(0.97,1.1)" class="ax axw">95.55</text></svg>
<div class="title cjk">原油</div><div class="title lat">4H</div>
</body></html>
